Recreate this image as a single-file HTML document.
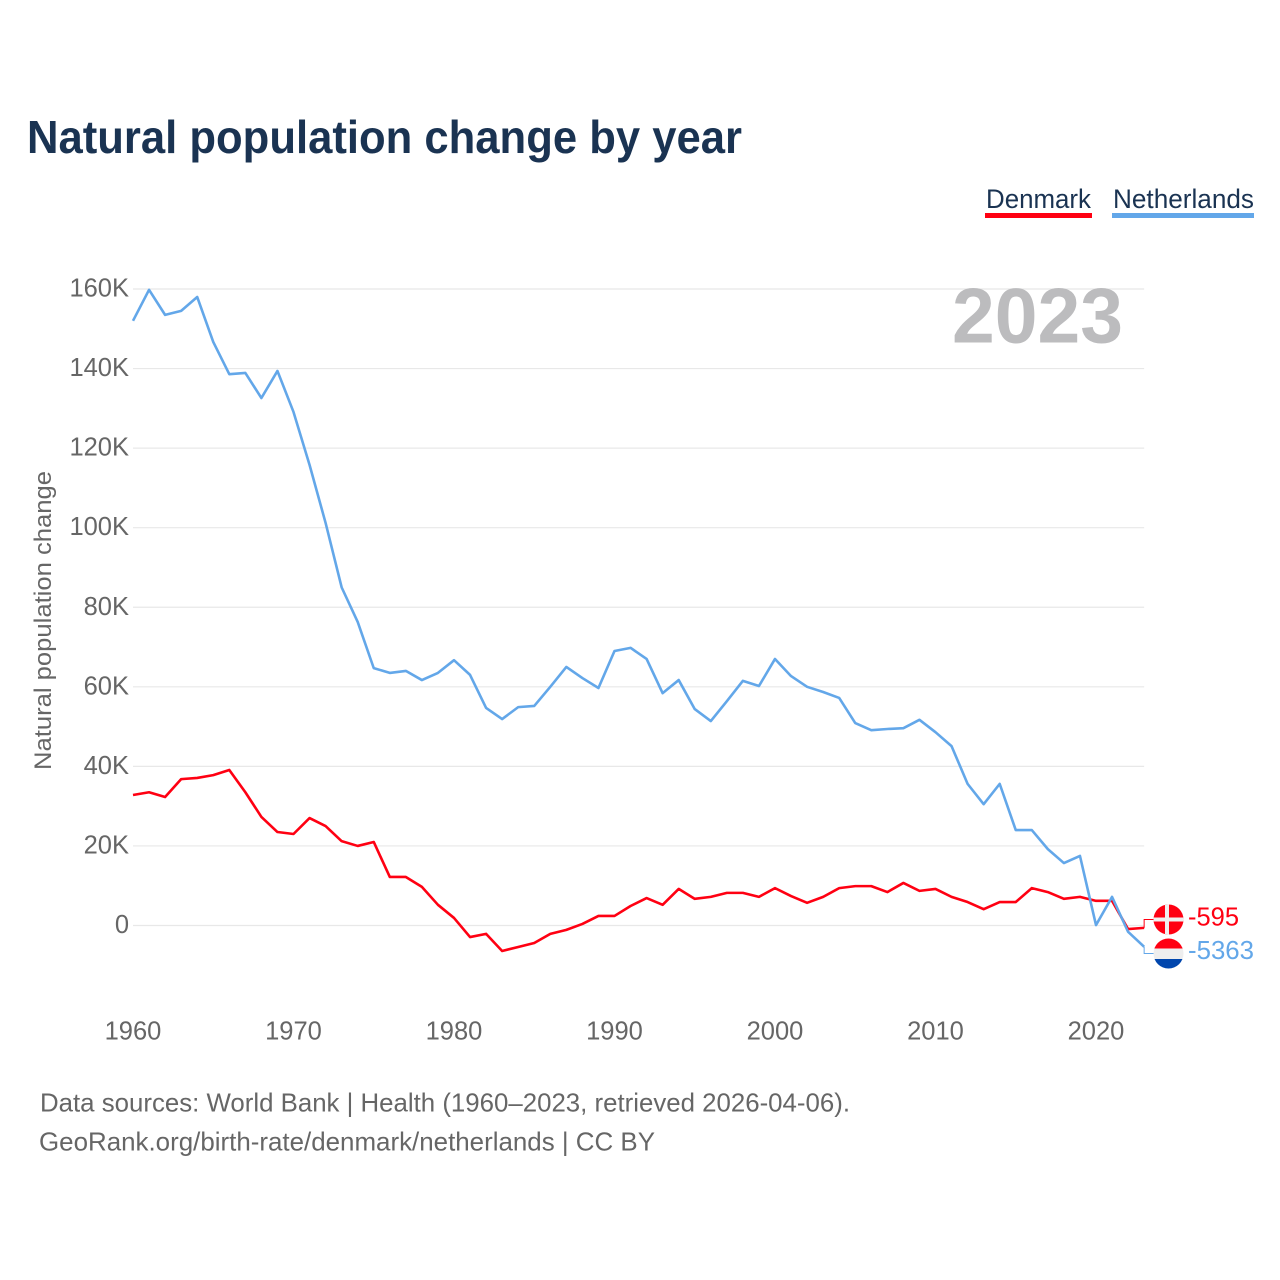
<!DOCTYPE html>
<html lang="en">
<head>
<meta charset="utf-8">
<title>Natural population change by year</title>
<style>
html,body{margin:0;padding:0;background:#fff;width:1280px;height:1280px;overflow:hidden}
svg{display:block;font-family:"Liberation Sans",sans-serif}
</style>
</head>
<body>
<svg id="chart" width="1280" height="1280" viewBox="0 0 1280 1280">
  <text x="27" y="153" font-size="46" font-weight="700" fill="#1a3352" textLength="715" lengthAdjust="spacingAndGlyphs">Natural population change by year</text>

  <g>
    <text x="986" y="208" font-size="27" fill="#1a3352" textLength="105" lengthAdjust="spacingAndGlyphs">Denmark</text>
    <rect x="985" y="213" width="107" height="5" fill="#ff0012"/>
  </g>
  <g>
    <text x="1113" y="208" font-size="27" fill="#1a3352" textLength="141" lengthAdjust="spacingAndGlyphs">Netherlands</text>
    <rect x="1112" y="213" width="142" height="5" fill="#63a7e9"/>
  </g>

  <text transform="translate(51,770) rotate(-90)" font-size="24" fill="#666" textLength="299" lengthAdjust="spacingAndGlyphs">Natural population change</text>

  <g id="grid"></g>
  <g id="yticks"></g>
  <g id="xticks"></g>

  <text x="952" y="342.5" font-size="78" font-weight="700" fill="#bcbcbe" textLength="171" lengthAdjust="spacingAndGlyphs">2023</text>

  <path id="connector-dk" fill="none" stroke="#ff0012" stroke-width="1"></path>
  <path id="connector-nl" fill="none" stroke="#63a7e9" stroke-width="1"></path>
  <path id="line-dk" fill="none" stroke="#ff0012" stroke-width="2.6" stroke-linejoin="round"></path>
  <path id="line-nl" fill="none" stroke="#63a7e9" stroke-width="2.6" stroke-linejoin="round"></path>

  <defs>
    <clipPath id="clip-dk"><circle cx="1168.5" cy="919.5" r="15"/></clipPath>
    <clipPath id="clip-nl"><circle cx="1168.5" cy="953.5" r="15"/></clipPath>
  </defs>
  <g clip-path="url(#clip-dk)">
    <rect x="1153" y="904" width="31" height="31" fill="#ff0012"/>
    <rect x="1165" y="904" width="4" height="31" fill="#f0f0f0"/>
    <rect x="1153" y="917.5" width="31" height="4" fill="#f0f0f0"/>
  </g>
  <g clip-path="url(#clip-nl)">
    <rect x="1153" y="938" width="31" height="10.5" fill="#ff0012"/>
    <rect x="1153" y="948.5" width="31" height="10.5" fill="#eeeeee"/>
    <rect x="1153" y="959" width="31" height="10.5" fill="#0046ad"/>
  </g>

  <text id="value-dk" x="1188" y="925.5" font-size="26" fill="#ff0012" textLength="51" lengthAdjust="spacingAndGlyphs"></text>
  <text id="value-nl" x="1188" y="959" font-size="26" fill="#63a7e9" textLength="66" lengthAdjust="spacingAndGlyphs"></text>

  <text x="40" y="1111.5" font-size="26" fill="#666" textLength="810" lengthAdjust="spacingAndGlyphs">Data sources: World Bank | Health (1960–2023, retrieved 2026-04-06).</text>
  <text x="39" y="1150.5" font-size="26" fill="#666" textLength="616" lengthAdjust="spacingAndGlyphs">GeoRank.org/birth-rate/denmark/netherlands | CC BY</text>
</svg>
<script>
const startYear = 1960;
const denmarkValues = [32.8,33.5,32.3,36.8,37.1,37.8,39.1,33.5,27.3,23.5,23.0,27.0,25.0,21.2,20.0,21.0,12.2,12.2,9.7,5.2,1.9,-2.9,-2.1,-6.4,-5.4,-4.4,-2.1,-1.1,0.4,2.4,2.4,4.9,6.9,5.2,9.2,6.7,7.2,8.2,8.2,7.2,9.4,7.4,5.7,7.2,9.4,9.9,9.9,8.4,10.7,8.7,9.2,7.2,5.9,4.1,5.9,5.9,9.4,8.4,6.7,7.2,6.2,6.2,-0.9,-0.595];
const netherlandsValues = [152.0,159.8,153.5,154.5,158.0,146.7,138.6,138.9,132.6,139.4,129.1,115.8,101.2,85.0,76.3,64.7,63.5,64.0,61.7,63.5,66.7,63.0,54.7,51.9,54.9,55.2,60.0,65.0,62.2,59.7,69.0,69.8,67.0,58.4,61.7,54.4,51.4,56.4,61.5,60.2,67.0,62.7,60.0,58.7,57.2,50.9,49.1,49.4,49.6,51.7,48.6,45.1,35.6,30.5,35.6,24.0,24.0,19.2,15.7,17.5,0.1,7.2,-1.6,-5.363];
const yTickValues = [0,20,40,60,80,100,120,140,160];
const yTickLabels = ["0","20K","40K","60K","80K","100K","120K","140K","160K"];
const xTickValues = [1960,1970,1980,1990,2000,2010,2020];

const NS = "http://www.w3.org/2000/svg";
function xScale(year){ return 133 + (year - 1960) * 16.05; }
function yScale(v){ return 925.5 - v * 3.978; }
function linePath(values){
  return values.map(function(v,i){
    return (i ? "L" : "M") + xScale(startYear + i).toFixed(2) + " " + yScale(v).toFixed(2);
  }).join(" ");
}

const grid = document.getElementById("grid");
const yticks = document.getElementById("yticks");
const xticks = document.getElementById("xticks");

yTickValues.forEach(function(v,i){
  const ln = document.createElementNS(NS,"line");
  ln.setAttribute("x1", xScale(1960));
  ln.setAttribute("x2", xScale(2023));
  ln.setAttribute("y1", yScale(v));
  ln.setAttribute("y2", yScale(v));
  ln.setAttribute("stroke", "#e8e8e8");
  ln.setAttribute("stroke-width", "1.2");
  
  
  grid.appendChild(ln);

  const t = document.createElementNS(NS,"text");
  t.setAttribute("x", 129);
  t.setAttribute("y", yScale(v) + 7.5);
  t.setAttribute("text-anchor", "end");
  t.setAttribute("font-size", "25.5");
  t.setAttribute("fill", "#666");
  
  
  t.textContent = yTickLabels[i];
  yticks.appendChild(t);
});

xTickValues.forEach(function(year){
  const t = document.createElementNS(NS,"text");
  t.setAttribute("x", xScale(year));
  t.setAttribute("y", 1039.5);
  t.setAttribute("text-anchor", "middle");
  t.setAttribute("font-size", "25.5");
  t.setAttribute("fill", "#666");
  
  
  t.textContent = year;
  xticks.appendChild(t);
});

document.getElementById("line-dk").setAttribute("d", linePath(denmarkValues));
document.getElementById("line-nl").setAttribute("d", linePath(netherlandsValues));

const lastDk = denmarkValues[denmarkValues.length - 1];
const lastNl = netherlandsValues[netherlandsValues.length - 1];
const endX = xScale(2023);
document.getElementById("connector-dk").setAttribute("d", "M" + endX + " " + yScale(lastDk) + " V919.5 H1154");
document.getElementById("connector-nl").setAttribute("d", "M" + endX + " " + yScale(lastNl) + " V953.5 H1154");
document.getElementById("value-dk").textContent = Math.round(lastDk * 1000);
document.getElementById("value-nl").textContent = Math.round(lastNl * 1000);
</script>
</body>
</html>
